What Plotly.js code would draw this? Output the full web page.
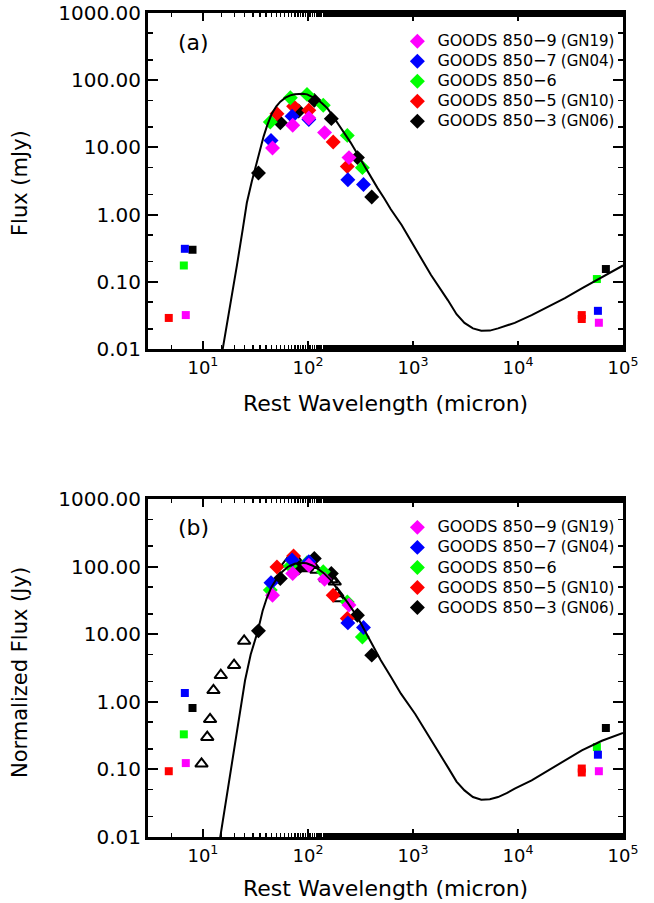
<!DOCTYPE html>
<html>
<head>
<meta charset="utf-8">
<script src="https://cdn.plot.ly/plotly-3.0.1.min.js"></script>
<style>html,body{margin:0;padding:0;background:#fff;}#chart{width:654px;height:903px;}</style>
</head>
<body>
<div id="chart"></div>
<script>
// ---------------- DATA ----------------
const sourceNames = ['GOODS 850\u22129', 'GOODS 850\u22127', 'GOODS 850\u22126', 'GOODS 850\u22125', 'GOODS 850\u22123'];
const sourceAlias = ['(GN19)', '(GN04)', '', '(GN10)', '(GN06)'];

// GOODS 850-9 (GN19)
const wlFIR_9 = [46, 71.6, 102, 144, 246];
const fluxA_9 = [9.8, 21.3, 27.4, 16.6, 7.05];
const fluxB_9 = [37.8, 79, 105, 65, 27];
const wlSq_9 = [6.87, 58900];
const sqA_9 = [0.032, 0.0246];
const sqB_9 = [0.124, 0.094];

// GOODS 850-7 (GN04)
const wlFIR_7 = [44.5, 70.6, 102, 240, 338];
const fluxA_7 = [12.7, 29, 26, 3.3, 2.8];
const fluxB_7 = [57.5, 125, 118, 14.7, 12.6];
const wlSq_7 = [6.73, 57700];
const sqA_7 = [0.31, 0.037];
const sqB_7 = [1.35, 0.165];

// GOODS 850-6
const wlFIR_6 = [43.8, 68, 98, 140, 237, 330];
const fluxA_6 = [23.8, 55, 61.5, 42.3, 15.1, 5.0];
const fluxB_6 = [44.9, 102, 114, 84, 30, 9.1];
const wlSq_6 = [6.58, 56400];
const sqA_6 = [0.175, 0.11];
const sqB_6 = [0.33, 0.214];

// GOODS 850-5 (GN10)
const wlFIR_5 = [50.7, 73, 102, 174, 237];
const fluxA_5 = [31.8, 40.8, 35.6, 12.0, 5.2];
const fluxB_5 = [99, 143, 115, 37.8, 17.1];
const wlSq_5 = [4.73, 40500, 40500];
const sqA_5 = [0.029, 0.032, 0.028];
const sqB_5 = [0.094, 0.103, 0.090];

// GOODS 850-3 (GN06)
const wlFIR_3 = [33.8, 54.6, 81.6, 115, 167, 296, 405];
const fluxA_3 = [4.17, 23.3, 34.8, 50.1, 26.8, 7.05, 1.83];
const fluxB_3 = [11.2, 66.8, 95, 132, 79, 19.1, 4.9];
const wlSq_3 = [7.96, 68700];
const sqA_3 = [0.30, 0.155];
const sqB_3 = [0.81, 0.41];

// open triangles (panel b)
const wlTri = [9.7, 11.0, 11.7, 12.6, 14.8, 19.8, 24.7, 63.2, 75.9, 87.9, 98.1, 109.6, 120.5, 147, 167, 180, 190, 197];
const fluxTri = [0.121, 0.30, 0.55, 1.48, 2.47, 3.48, 7.96, 111, 132, 94, 99, 105, 88.7, 66.8, 64.6, 59.5, 40.1, 33.8];

// SED model curves
const wlCurveA = [15.4, 18.1, 21.1, 24, 26.2, 29.2, 31.5, 35.1, 37.8, 41, 45.4, 50, 54.6, 61, 68, 75, 81.7, 90, 98.2, 113.7, 122.5, 137, 152.6, 164, 190, 220, 255, 296, 369, 459, 532, 615, 780, 1028, 1486, 2146, 2600, 3094, 3724, 4477, 5400, 6460, 7800, 9310, 13500, 19450, 28000, 40540, 63000, 97700, 100000];
const fluxCurveA = [0.0098, 0.042, 0.177, 0.62, 1.5, 3.1, 5.0, 9.3, 14.5, 21.5, 32, 41, 48, 55, 59.5, 62, 63, 63, 61.5, 56, 52, 45, 38.5, 33, 23.5, 16.5, 11.8, 8.0, 4.4, 2.5, 1.75, 1.2, 0.7, 0.34, 0.126, 0.0535, 0.033, 0.0245, 0.0203, 0.0187, 0.0188, 0.0203, 0.0222, 0.0245, 0.032, 0.0425, 0.057, 0.0797, 0.118, 0.171, 0.175];
const wlCurveB = [14.6, 18.1, 21, 23.4, 25.2, 28.5, 33.3, 37, 40.5, 45, 50.7, 57, 65, 75, 85, 97, 110, 125, 141.6, 165, 190, 240, 296, 380, 494, 620, 768, 1050, 1486, 2147, 2600, 3096, 3724, 4477, 5400, 6460, 7800, 9310, 13500, 19450, 28000, 40540, 63000, 97700, 100000];
const fluxCurveB = [0.0098, 0.084, 0.35, 1.05, 2.08, 5.0, 11.1, 22, 34, 50, 67, 84, 100, 110, 114, 112, 104, 92, 80, 63, 47.5, 29, 18.0, 8.8, 4.12, 2.3, 1.32, 0.66, 0.28, 0.108, 0.066, 0.0489, 0.039, 0.0356, 0.0362, 0.039, 0.0445, 0.0518, 0.069, 0.0966, 0.136, 0.191, 0.265, 0.338, 0.345];

const xTickVals = [10, 100, 1000, 10000, 100000];
const xTickText = ['10<sup>1</sup>', '10<sup>2</sup>', '10<sup>3</sup>', '10<sup>4</sup>', '10<sup>5</sup>'];
const yTickVals = [0.01, 0.1, 1, 10, 100, 1000];
const yTickText = ['0.01', '0.10', '1.00', '10.00', '100.00', '1000.00'];
const xTitle = 'Rest Wavelength (micron)';
const yTitleA = 'Flux (mJy)';
const yTitleB = 'Normalized Flux (Jy)';
const panelLabels = ['(a)', '(b)'];

// ---------------- STYLE / BUILD ----------------
const FONT = 'DejaVu Sans';
const colors = ['#FF00FF', '#0000FF', '#00FF00', '#FF0000', '#000000'];
const sources = [
  {fir: wlFIR_9, a: fluxA_9, b: fluxB_9, sq: wlSq_9, sqa: sqA_9, sqb: sqB_9},
  {fir: wlFIR_7, a: fluxA_7, b: fluxB_7, sq: wlSq_7, sqa: sqA_7, sqb: sqB_7},
  {fir: wlFIR_6, a: fluxA_6, b: fluxB_6, sq: wlSq_6, sqa: sqA_6, sqb: sqB_6},
  {fir: wlFIR_5, a: fluxA_5, b: fluxB_5, sq: wlSq_5, sqa: sqA_5, sqb: sqB_5},
  {fir: wlFIR_3, a: fluxA_3, b: fluxB_3, sq: wlSq_3, sqa: sqA_3, sqb: sqB_3}
];
function legendLabel(i) {
  let s = '<span style="font-size:16px">' + sourceNames[i] + '</span>';
  if (sourceAlias[i]) s += ' <span style="font-size:15px">' + sourceAlias[i] + '</span>';
  return s;
}

const traces = [];
const drawOrder = [4, 3, 2, 1, 0];
['a', 'b'].forEach(function (panel) {
  const xa = panel === 'a' ? 'x' : 'x2';
  const ya = panel === 'a' ? 'y' : 'y2';
  const leg = panel === 'a' ? 'legend' : 'legend2';
  drawOrder.forEach(function (i) {
    const s = sources[i];
    traces.push({
      type: 'scatter', mode: 'markers', xaxis: xa, yaxis: ya,
      x: s.sq, y: panel === 'a' ? s.sqa : s.sqb,
      marker: {symbol: 'square', size: 8, color: colors[i]},
      showlegend: false, hoverinfo: 'skip'
    });
  });
  if (panel === 'b') {
    traces.push({
      type: 'scatter', mode: 'markers', xaxis: xa, yaxis: ya,
      x: wlTri, y: fluxTri,
      marker: {symbol: 'triangle-up-open', size: 11, color: '#000', line: {width: 2, color: '#000'}},
      showlegend: false
    });
  }
  drawOrder.forEach(function (i) {
    const s = sources[i];
    traces.push({
      type: 'scatter', mode: 'markers', xaxis: xa, yaxis: ya,
      x: s.fir, y: panel === 'a' ? s.a : s.b,
      name: legendLabel(i), legend: leg, legendrank: i + 1,
      marker: {symbol: 'diamond', size: 11.5, color: colors[i]}
    });
  });
  traces.push({
    type: 'scatter', mode: 'lines', xaxis: xa, yaxis: ya,
    x: panel === 'a' ? wlCurveA : wlCurveB,
    y: panel === 'a' ? fluxCurveA : fluxCurveB,
    line: {color: '#000', width: 2},
    showlegend: false
  });
});

function xAxis(anchor) {
  return {
    type: 'log', range: [Math.log10(3), 5], anchor: anchor,
    showline: true, linewidth: 3, linecolor: '#000', mirror: 'ticks',
    ticks: 'inside', ticklen: 8, tickwidth: 2, tickcolor: '#000',
    minor: {ticks: 'inside', ticklen: 4, tickwidth: 1.5, tickcolor: '#000', showgrid: false},
    showgrid: false, zeroline: false,
    tickmode: 'array', tickvals: xTickVals, ticktext: xTickText,
    tickfont: {family: FONT, size: 18, color: '#000'}
  };
}
function yAxis(anchor, domain) {
  return {
    type: 'log', range: [-2, 3], anchor: anchor, domain: domain,
    showline: true, linewidth: 3, linecolor: '#000', mirror: 'ticks',
    ticks: 'inside', ticklen: 10, tickwidth: 2, tickcolor: '#000',
    minor: {ticks: 'inside', ticklen: 5, tickwidth: 1.5, tickcolor: '#000', showgrid: false},
    showgrid: false, zeroline: false,
    tickmode: 'array', tickvals: yTickVals, ticktext: yTickText,
    tickfont: {family: FONT, size: 20, color: '#000'}
  };
}
const legendBase = {
  font: {family: FONT, size: 13.1, color: '#000'}, bgcolor: 'rgba(0,0,0,0)', borderwidth: 0,
  xanchor: 'left', yanchor: 'top', tracegroupgap: 0, itemclick: false, itemdoubleclick: false
};
function ann(text, x, y, size, angle) {
  return {text: text, xref: 'paper', yref: 'paper', x: x, y: y, xanchor: 'center', yanchor: 'middle',
    showarrow: false, textangle: angle || 0, font: {family: FONT, size: size, color: '#000'}};
}
const layout = {
  width: 654, height: 903,
  margin: {l: 148, r: 31, t: 13, b: 66},
  paper_bgcolor: '#fff', plot_bgcolor: '#fff',
  font: {family: FONT, color: '#000'},
  showlegend: true,
  xaxis: xAxis('y'),
  yaxis: yAxis('x', [0.5922, 1]),
  xaxis2: xAxis('y2'),
  yaxis2: yAxis('x2', [0, 0.4102]),
  legend: Object.assign({}, legendBase, {x: 0.525, y: 0.984}),
  legend2: Object.assign({}, legendBase, {x: 0.525, y: 0.394}),
  annotations: [
    ann(panelLabels[0], 0.095, 0.9636, 22),
    ann(panelLabels[1], 0.095, 0.3762, 22),
    ann(xTitle, 0.5, 0.5255, 22),
    ann(xTitle, 0.5, -0.0619, 22),
    ann(yTitleA, -0.2695, 0.7937, 21, -90),
    ann(yTitleB, -0.2695, 0.2002, 21, -90)
  ]
};
Plotly.newPlot('chart', traces, layout, {staticPlot: true, displayModeBar: false});
</script>
</body>
</html>
